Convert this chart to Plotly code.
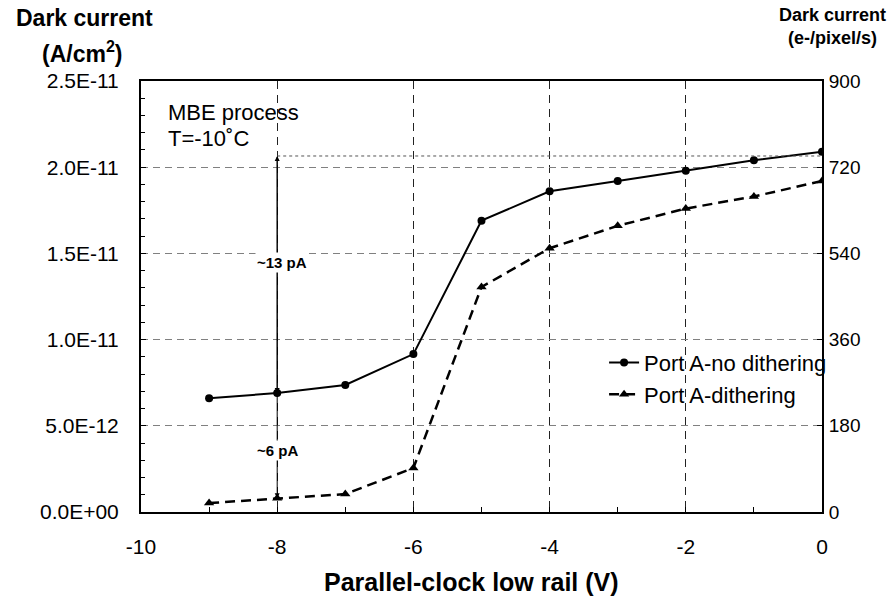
import plotly.graph_objects as go

voltage = [-9, -8, -7, -6, -5, -4, -3, -2, -1, 0]
no_dither = [6.6e-12, 6.9e-12, 7.37e-12, 9.16e-12, 16.9e-12, 18.6e-12, 19.2e-12, 19.8e-12, 20.4e-12, 20.9e-12]
dither = [0.52e-12, 0.8e-12, 1.04e-12, 2.55e-12, 13.05e-12, 15.3e-12, 16.6e-12, 17.6e-12, 18.3e-12, 19.2e-12]
x_ticks = [-10, -8, -6, -4, -2, 0]
x_labels = ["-10", "-8", "-6", "-4", "-2", "0"]
left_ticks = [0, 5e-12, 1e-11, 1.5e-11, 2e-11, 2.5e-11]
left_labels = ["0.0E+00", "5.0E-12", "1.0E-11", "1.5E-11", "2.0E-11", "2.5E-11"]
right_ticks = [0, 180, 360, 540, 720, 900]

FONT = "Liberation Sans, Arial, sans-serif"

fig = go.Figure()
fig.add_trace(go.Scatter(
    x=voltage, y=no_dither, name="Port A-no dithering", mode="lines+markers",
    line=dict(color="black", width=2), marker=dict(symbol="circle", size=8, color="black")))
fig.add_trace(go.Scatter(
    x=voltage, y=dither, name="Port A-dithering", mode="lines+markers",
    line=dict(color="black", width=2.5, dash="10px,6px"),
    marker=dict(symbol="triangle-up", size=9, color="black")))
fig.add_trace(go.Scatter(x=[None], y=[None], yaxis="y2", showlegend=False, hoverinfo="skip"))

top_level = 20.65e-12
mid_level = no_dither[1]
bot_level = dither[1]

fig.add_shape(type="line", x0=-8, x1=0, y0=top_level, y1=top_level,
              line=dict(color="#555", width=1, dash="3px,3px"), xref="x", yref="y")

for y_from, y_to in [(mid_level, top_level), (top_level, mid_level), (mid_level, bot_level)]:
    fig.add_annotation(x=-8, y=y_to, ax=-8, ay=y_from, xref="x", yref="y", axref="x", ayref="y",
                       showarrow=True, arrowhead=2, arrowsize=1, arrowwidth=1, arrowcolor="black", text="")

fig.add_annotation(x=-7.93, y=14.5e-12, text="<b>~13 pA</b>", showarrow=False, bgcolor="white",
                   font=dict(family=FONT, size=15, color="black"))
fig.add_annotation(x=-8.0, y=3.54e-12, text="<b>~6 pA</b>", showarrow=False, bgcolor="white",
                   font=dict(family=FONT, size=15, color="black"))

fig.add_annotation(x=-9.633, y=23.2e-12, text="MBE process", showarrow=False,
                   xanchor="left", yanchor="middle", font=dict(family=FONT, size=22, color="black"))
fig.add_annotation(x=-9.633, y=21.64e-12, text="T=-10˚C", showarrow=False,
                   xanchor="left", yanchor="middle", font=dict(family=FONT, size=22, color="black"))

# axis titles
fig.add_annotation(xref="paper", yref="paper", x=-0.0837, y=1.146, xanchor="center", yanchor="middle",
                   text="<b>Dark current</b>", showarrow=False, font=dict(family=FONT, size=23, color="black"))
fig.add_annotation(xref="paper", yref="paper", x=-0.0866, y=1.068, xanchor="center", yanchor="middle",
                   text="<b>(A/cm<sup>2</sup>)</b>", showarrow=False, font=dict(family=FONT, size=23, color="black"))
fig.add_annotation(xref="paper", yref="paper", x=1.016, y=1.153, xanchor="center", yanchor="middle",
                   text="<b>Dark current</b>", showarrow=False, font=dict(family=FONT, size=18, color="black"))
fig.add_annotation(xref="paper", yref="paper", x=1.015, y=1.0998, xanchor="center", yanchor="middle",
                   text="<b>(e-/pixel/s)</b>", showarrow=False, font=dict(family=FONT, size=18, color="black"))
fig.add_annotation(xref="paper", yref="paper", x=0.4846, y=-0.162, xanchor="center", yanchor="middle",
                   text="<b>Parallel-clock low rail (V)</b>", showarrow=False,
                   font=dict(family=FONT, size=25, color="black"))

fig.update_layout(
    width=888, height=600,
    margin=dict(l=141, r=66, t=81, b=88),
    paper_bgcolor="white", plot_bgcolor="white",
    font=dict(family=FONT, size=20, color="black"),
    xaxis=dict(range=[-10, 0], tickvals=x_ticks, ticktext=x_labels, showline=True, linecolor="black",
               linewidth=2, mirror=True, ticks="inside", ticklen=5, tickcolor="black",
               showgrid=True, gridcolor="#222", gridwidth=1, griddash="8px,6px",
               minor=dict(dtick=1, ticks="inside", ticklen=5, tickcolor="black", showgrid=False),
               zeroline=False, tickfont=dict(size=21), ticklabelstandoff=15),
    yaxis=dict(range=[0, 2.5e-11], tickvals=left_ticks, ticktext=left_labels,
               showline=True, linecolor="black", linewidth=2, mirror=True,
               ticks="inside", ticklen=5, tickcolor="black",
               showgrid=True, gridcolor="#808080", gridwidth=1, griddash="7px,5px",
               minor=dict(dtick=1e-12, ticks="inside", ticklen=4, tickcolor="black", showgrid=False),
               zeroline=False, tickfont=dict(size=21), ticklabelstandoff=16),
    yaxis2=dict(range=[0, 900], tickvals=right_ticks, overlaying="y", side="right",
                showline=True, linecolor="black", linewidth=2, ticks="inside", ticklen=5,
                tickcolor="black", showgrid=False, zeroline=False, tickfont=dict(size=19),
                ticklabelstandoff=1),
    legend=dict(x=0.680, y=0.395, xanchor="left", yanchor="top", bgcolor="rgba(0,0,0,0)",
                font=dict(size=22), tracegroupgap=0),
    showlegend=True,
)

fig.write_html("out.html")
